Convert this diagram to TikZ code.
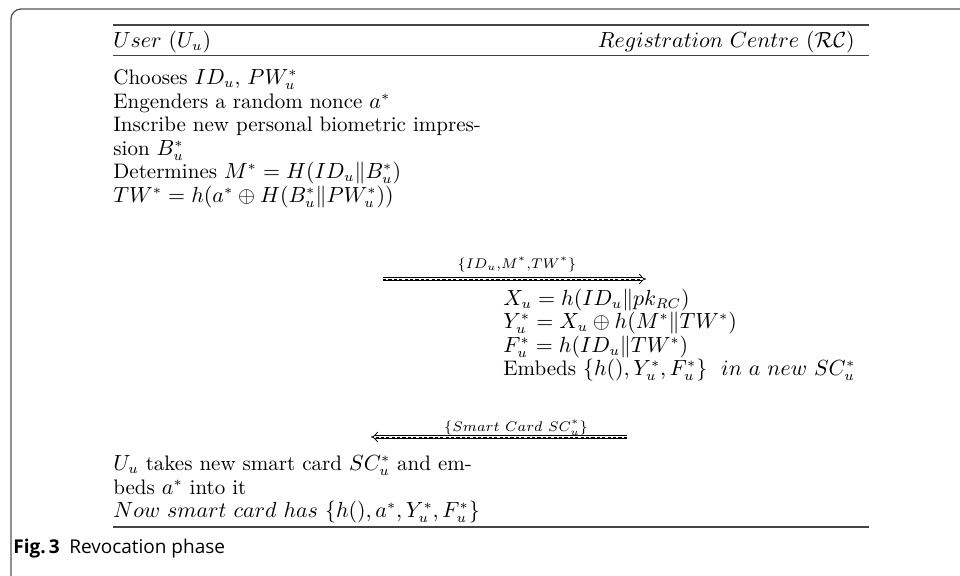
\documentclass[tikz,border=0pt]{standalone}
\usepackage{fontspec}
\usepackage{amsmath}
\newfontfamily\capfont{Open Sans}
\usetikzlibrary{arrows.meta}
\definecolor{framecol}{HTML}{555555}
\definecolor{rulecol}{HTML}{444444}
\tikzset{
  txt/.style={anchor=base west, inner sep=0pt, font=\fontsize{10.5}{12.6}\selectfont},
  lbl/.style={anchor=base, inner sep=0pt, font=\fontsize{7.3}{8.5}\selectfont},
  msgarrow/.style={double, double distance=1.4pt, line width=0.42pt, -{Implies[]}},
  msgdash/.style={line width=0.45pt, dash pattern=on 1.6pt off 1.1pt},
  tabrule/.style={rulecol, line width=0.7pt},
}
\begin{document}
\begin{tikzpicture}[x=0.5pt, y=-0.5pt]
\useasboundingbox (0,0) rectangle (960,575);
% frame
\draw[framecol, line width=0.65pt, rounded corners=5pt] (11,580) -- (11,9) -- (965,9);
% table rules
\coordinate (tl) at (113,25); \coordinate (tr) at (869,25);
\coordinate (ml) at (113,55.5); \coordinate (mr) at (869,55.5);
\coordinate (bl) at (113,527); \coordinate (br) at (869,527);
\draw[tabrule] (tl) -- (tr);
\draw[tabrule, line width=0.5pt] (ml) -- (mr);
\draw[tabrule] (bl) -- (br);
% header
\node[txt] (hu) at (113,47) {$User\ (U_u)$};
\node[txt, anchor=base east] (hrc) at (855,47) {$Registration\ Centre\ (\mathcal{RC})$};
% user side
\node[txt] (l1) at (113,84.5) {Chooses $ID_u$, $PW_u^*$};
\node[txt] (l2) at (113,108) {Engenders a random nonce $a^*$};
\node[txt] (l3) at (113,131.5) {Inscribe new personal biometric impres-};
\node[txt] (l4) at (113,155) {sion $B_u^*$};
\node[txt] (l5) at (113,178.5) {Determines $M^* = H(ID_u\|B_u^*)$};
\node[txt] (l6) at (113,202) {$TW^* = h(a^* \oplus H(B_u^*\|PW_u^*))$};
% message 1
\coordinate (a1s) at (383,279);
\coordinate (a1e) at (646,279);
\coordinate (a1d) at (641,279);
\draw[msgarrow] (a1s) -- (a1e);
\draw[msgdash] (a1s) -- (a1d);
\node[lbl] (m1) at (517,268) {$\{ID_u{,}M^*{,}TW^*\}$};
% RC side
\node[txt] (r1) at (503,305) {$X_u = h(ID_u\|pk_{RC})$};
\node[txt] (r2) at (503,328.5) {$Y_u^* = X_u \oplus h(M^*\|TW^*)$};
\node[txt] (r3) at (503,352) {$F_u^* = h(ID_u\|TW^*)$};
\node[txt] (r4) at (503,375.5) {Embeds $\{h(), Y_u^*, F_u^*\}\ \ in\ a\ new\ SC_u^*$};
% message 2
\coordinate (a2s) at (627,437);
\coordinate (a2e) at (371,437);
\coordinate (a2d) at (376,437);
\draw[msgarrow] (a2s) -- (a2e);
\draw[msgdash] (a2s) -- (a2d);
\node[lbl] (m2) at (516,431) {$\{Smart\ Card\ SC_u^*\}$};
% user final
\node[txt] (b1) at (113,470.5) {$U_u$ takes new smart card $SC_u^*$ and em-};
\node[txt] (b2) at (113,494) {beds $a^*$ into it};
\node[txt] (b3) at (113,517) {$Now\ smart\ card\ has\ \{h(), a^*, Y_u^*, F_u^*\}$};
% caption
\node[anchor=base west, inner sep=0pt, font=\capfont\fontsize{9.5}{11}\selectfont] (cap) at (13,553) {\textbf{Fig.\,3}\enspace Revocation phase};
\end{tikzpicture}
\end{document}
